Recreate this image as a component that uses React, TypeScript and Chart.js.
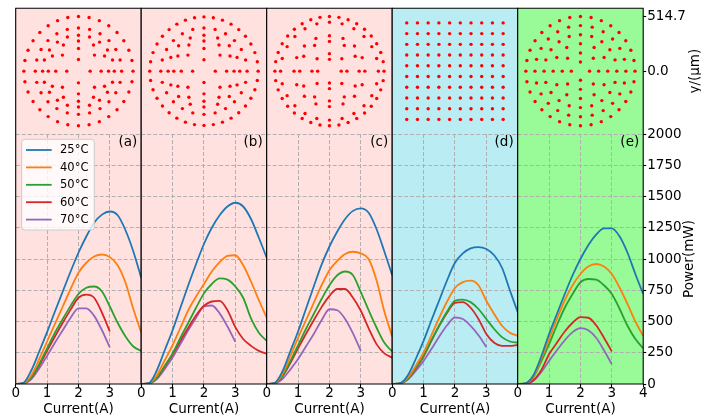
import React, { useEffect, useRef } from 'react';
import { Chart, registerables } from 'chart.js';

Chart.register(...registerables);

// ---------------- data ----------------
const CURRENT = [0, 0.25, 0.5, 0.75, 1, 1.25, 1.5, 1.75, 2, 2.25, 2.5, 2.75, 3, 3.25, 3.5, 3.75, 4];
const CURRENT_TICKS = [0, 1, 2, 3, 4];
const POWER_MIN = 0;
const POWER_MAX = 2000;
const POWER_STEP = 250;
const Y_UM_TICKS = [0, 514.7];
const Y_UM_LIMIT = 591.9;
const TEMPS = ['25°C', '40°C', '50°C', '60°C', '70°C'];
const PANEL_LABELS = ['(a)', '(b)', '(c)', '(d)', '(e)'];

const POWER_A = [
  [0, 10, 110, 260, 415, 580, 740, 900, 1050, 1180, 1290, 1355, 1380, 1350, 1230, 1060, 850],
  [0, 5, 70, 200, 340, 480, 620, 760, 890, 970, 1020, 1036, 1015, 950, 810, 600, 412],
  [0, 4, 55, 160, 285, 410, 520, 625, 720, 770, 780, 740, 620, 490, 380, 300, 265],
  [0, 4, 50, 150, 265, 380, 490, 595, 690, 715, 690, 570, 420],
  [0, 3, 40, 125, 225, 330, 430, 530, 605, 605, 545, 430, 292],
];
const POWER_B = [
  [0, 8, 110, 270, 430, 610, 790, 960, 1120, 1250, 1350, 1420, 1450, 1420, 1320, 1170, 1010],
  [0, 5, 70, 190, 310, 450, 590, 700, 800, 900, 975, 1025, 1030, 950, 820, 670, 532],
  [0, 4, 50, 145, 245, 370, 490, 610, 725, 800, 845, 835, 780, 690, 525, 410, 345],
  [0, 4, 50, 140, 235, 345, 450, 550, 626, 660, 665, 590, 455, 360, 305, 265, 243],
  [0, 3, 40, 120, 211, 320, 430, 530, 620, 628, 565, 460, 337],
];
const POWER_C = [
  [0, 8, 100, 260, 420, 600, 780, 955, 1100, 1220, 1320, 1385, 1405, 1370, 1240, 1060, 870],
  [0, 6, 80, 220, 370, 510, 650, 790, 910, 985, 1040, 1058, 1045, 1000, 830, 580, 380],
  [0, 5, 65, 180, 310, 440, 560, 680, 790, 870, 900, 870, 735, 590, 452, 330, 260],
  [0, 5, 60, 165, 285, 400, 510, 615, 705, 760, 760, 690, 586, 445, 319, 245, 211],
  [0, 3, 40, 115, 200, 300, 400, 510, 598, 590, 520, 405, 265],
];
const POWER_D = [
  [0, 6, 70, 200, 345, 510, 670, 830, 970, 1045, 1085, 1095, 1080, 1030, 930, 750, 575],
  [0, 5, 50, 145, 252, 390, 530, 660, 768, 815, 827, 790, 666, 560, 466, 410, 385],
  [0, 4, 45, 130, 225, 350, 470, 580, 666, 675, 655, 600, 520, 440, 375, 340, 332],
  [0, 4, 42, 125, 220, 345, 465, 570, 650, 655, 610, 520, 400, 330, 305, 305, 313],
  [0, 3, 35, 105, 185, 280, 380, 470, 532, 520, 465, 390, 297],
];
const POWER_E = [
  [0, 6, 70, 220, 400, 560, 720, 870, 1000, 1110, 1195, 1245, 1245, 1180, 1050, 880, 720],
  [0, 5, 60, 200, 359, 520, 670, 790, 880, 940, 960, 940, 880, 770, 640, 500, 385],
  [0, 5, 55, 180, 319, 470, 610, 720, 814, 840, 835, 790, 720, 600, 466, 360, 286],
  [0, 3, 30, 110, 238, 330, 420, 490, 535, 530, 470, 370, 260],
  [0, 2, 25, 95, 185, 270, 350, 415, 447, 430, 370, 270, 158],
];

// emitter layouts (µm): ring radii and number of emitters per ring
const RING_RADII_A = [110, 214, 284, 338, 407, 514.7];
const RING_COUNTS_A = [4, 8, 12, 20, 24, 32];
const RING_RADII_B = [107, 214, 284, 338, 407, 511];
const RING_COUNTS_B = [4, 8, 12, 16, 24, 36];
const RING_RADII_C = [111, 165, 280, 334, 461, 514.7];
const RING_COUNTS_C = [4, 8, 12, 16, 24, 36];
const GRID_D = [-454.5, -353.5, -252.5, -151.5, -50.5, 50.5, 151.5, 252.5, 353.5, 454.5];
const RING_RADII_E = [85.8, 171.6, 257.4, 343.1, 428.9, 514.7];
const RING_COUNTS_E = [4, 8, 12, 20, 24, 32];

// ---------------- style / layout ----------------
const CANVAS_W = 701;
const CANVAS_H = 420;
const FONT = "'DejaVu Sans', sans-serif";
const COLORS = ['#1f77b4', '#ff7f0e', '#2ca02c', '#d62728', '#9467bd'];
const PANEL_BG = ['#ffe2e0', '#ffe2e0', '#ffe2e0', '#b9edf3', '#98fb98'];
const GRID_COLOR = '#b0b0b0';
const PLOT_LEFT = 15.7;
const PANEL_W = 125.5;
const TOP_Y = 8.3;
const MID_Y = 134;
const BOTTOM_Y = 384;

function ringDots(radii: number[], counts: number[]) {
  const pts: { x: number; y: number }[] = [];
  radii.forEach((r, i) => {
    const n = counts[i];
    for (let j = 0; j < n; j++) {
      const a = (2 * Math.PI * j) / n;
      pts.push({ x: r * Math.cos(a), y: r * Math.sin(a) });
    }
  });
  return pts;
}
function gridDots(pos: number[]) {
  const pts: { x: number; y: number }[] = [];
  pos.forEach((y) => pos.forEach((x) => pts.push({ x, y })));
  return pts;
}

const DOTS = [
  ringDots(RING_RADII_A, RING_COUNTS_A),
  ringDots(RING_RADII_B, RING_COUNTS_B),
  ringDots(RING_RADII_C, RING_COUNTS_C),
  gridDots(GRID_D),
  ringDots(RING_RADII_E, RING_COUNTS_E),
];
const POWERS = [POWER_A, POWER_B, POWER_C, POWER_D, POWER_E];

const decorPlugin = {
  id: 'decor',
  beforeDraw(chart: any, _args: any, opts: any) {
    const { ctx, chartArea: a } = chart;
    ctx.save();
    ctx.fillStyle = opts.bg;
    ctx.fillRect(a.left, a.top, a.right - a.left, a.bottom - a.top);
    ctx.restore();
  },
  afterDraw(chart: any, _args: any, opts: any) {
    const { ctx, chartArea: a } = chart;
    ctx.save();
    ctx.strokeStyle = '#000';
    ctx.lineWidth = 1.1;
    ctx.beginPath();
    const sp: string[] = opts.spines || [];
    if (sp.includes('top')) { ctx.moveTo(a.left - 0.5, a.top); ctx.lineTo(a.right + 0.5, a.top); }
    if (sp.includes('bottom')) { ctx.moveTo(a.left - 0.5, a.bottom); ctx.lineTo(a.right + 0.5, a.bottom); }
    if (sp.includes('left')) { ctx.moveTo(a.left, a.top); ctx.lineTo(a.left, a.bottom); }
    if (sp.includes('right')) { ctx.moveTo(a.right, a.top); ctx.lineTo(a.right, a.bottom); }
    ctx.stroke();

    if (opts.label) {
      ctx.fillStyle = '#000';
      ctx.font = `13.5px ${FONT}`;
      ctx.textAlign = 'right';
      ctx.textBaseline = 'middle';
      ctx.fillText(opts.label, a.right - 4, a.top + 8.7);
    }

    if (opts.sideTitle) {
      ctx.fillStyle = '#000';
      ctx.font = `13.5px ${FONT}`;
      ctx.textAlign = 'center';
      ctx.textBaseline = 'middle';
      ctx.translate(a.right + opts.sideOffset, (a.top + a.bottom) / 2);
      ctx.rotate(-Math.PI / 2);
      ctx.fillText(opts.sideTitle, 0, 0);
      ctx.setTransform(1, 0, 0, 1, 0, 0);
    }

    if (opts.legend) {
      const x0 = a.left + 6;
      const y0 = a.top + 5.3;
      const w = 72.6;
      const h = 90.7;
      const r = 3;
      ctx.beginPath();
      ctx.moveTo(x0 + r, y0);
      ctx.lineTo(x0 + w - r, y0);
      ctx.arcTo(x0 + w, y0, x0 + w, y0 + r, r);
      ctx.lineTo(x0 + w, y0 + h - r);
      ctx.arcTo(x0 + w, y0 + h, x0 + w - r, y0 + h, r);
      ctx.lineTo(x0 + r, y0 + h);
      ctx.arcTo(x0, y0 + h, x0, y0 + h - r, r);
      ctx.lineTo(x0, y0 + r);
      ctx.arcTo(x0, y0, x0 + r, y0, r);
      ctx.closePath();
      ctx.fillStyle = 'rgba(255,255,255,0.8)';
      ctx.fill();
      ctx.strokeStyle = '#cccccc';
      ctx.lineWidth = 1;
      ctx.stroke();
      ctx.font = `11.5px ${FONT}`;
      ctx.textAlign = 'left';
      ctx.textBaseline = 'middle';
      chart.data.datasets.forEach((ds: any, i: number) => {
        const yy = y0 + 10.7 + i * 17.4;
        ctx.strokeStyle = ds.borderColor;
        ctx.lineWidth = 1.8;
        ctx.beginPath();
        ctx.moveTo(x0 + 4.3, yy);
        ctx.lineTo(x0 + 30, yy);
        ctx.stroke();
        ctx.fillStyle = '#000';
        ctx.fillText(ds.label, x0 + 38.3, yy + 0.5);
      });
    }
    ctx.restore();
  },
};

function topConfig(k: number): any {
  const left = PLOT_LEFT + k * PANEL_W;
  const right = left + PANEL_W;
  const last = k === 4;
  const rightSpace = CANVAS_W - right;
  return {
    type: 'scatter',
    data: {
      datasets: [
        { data: DOTS[k], backgroundColor: '#ff0000', borderWidth: 0, pointRadius: 1.7, pointHoverRadius: 1.7 },
      ],
    },
    options: {
      responsive: false,
      animation: false,
      events: [],
      layout: {
        autoPadding: false,
        padding: { left, right: last ? 0 : rightSpace, top: TOP_Y, bottom: CANVAS_H - MID_Y },
      },
      plugins: {
        legend: { display: false },
        tooltip: { enabled: false },
        decor: {
          bg: PANEL_BG[k],
          spines: ['top', 'left', 'right'],
          sideTitle: last ? 'y/(μm)' : '',
          sideOffset: 52,
        },
      },
      scales: {
        x: { type: 'linear', min: -Y_UM_LIMIT, max: Y_UM_LIMIT, display: false },
        y: {
          type: 'linear',
          min: -Y_UM_LIMIT,
          max: Y_UM_LIMIT,
          display: last,
          position: 'right',
          afterFit: (s: any) => { s.width = last ? rightSpace : 0; },
          afterBuildTicks: (s: any) => { s.ticks = Y_UM_TICKS.map((v) => ({ value: v })); },
          ticks: {
            callback: (v: any) => Number(v).toFixed(1),
            color: '#000',
            padding: 1,
            font: { family: FONT, size: 13.5, lineHeight: 1 },
          },
          grid: { drawOnChartArea: false, drawTicks: true, tickLength: 3, tickColor: '#000', tickWidth: 1.1 },
          border: { display: false },
        },
      },
    },
    plugins: [decorPlugin],
  };
}

function bottomConfig(k: number): any {
  const left = PLOT_LEFT + k * PANEL_W;
  const right = left + PANEL_W;
  const last = k === 4;
  const rightSpace = CANVAS_W - right;
  const hideEdge = (c: any) =>
    c.tick && (c.tick.value === 0 || c.tick.value === 4) ? 'rgba(0,0,0,0)' : GRID_COLOR;
  return {
    type: 'line',
    data: {
      datasets: POWERS[k].map((vals, j) => ({
        label: TEMPS[j],
        data: vals.map((v, i) => ({ x: CURRENT[i], y: v })),
        borderColor: COLORS[j],
        backgroundColor: COLORS[j],
        borderWidth: 1.8,
        pointRadius: 0,
        fill: false,
        cubicInterpolationMode: 'monotone',
      })),
    },
    options: {
      responsive: false,
      animation: false,
      events: [],
      layout: {
        autoPadding: false,
        padding: { left, right: last ? 0 : rightSpace, top: MID_Y, bottom: 0 },
      },
      plugins: {
        legend: { display: false },
        tooltip: { enabled: false },
        decor: {
          bg: PANEL_BG[k],
          spines: ['left', 'right', 'bottom'],
          label: PANEL_LABELS[k],
          legend: k === 0,
          sideTitle: last ? 'Power(mW)' : '',
          sideOffset: 46.5,
        },
      },
      scales: {
        x: {
          type: 'linear',
          min: 0,
          max: 4,
          afterFit: (s: any) => { s.height = CANVAS_H - BOTTOM_Y; },
          afterBuildTicks: (s: any) => { s.ticks = CURRENT_TICKS.map((v) => ({ value: v })); },
          ticks: {
            callback: (v: any) => (!last && v === 4 ? '' : String(v)),
            color: '#000',
            padding: 0,
            maxRotation: 0,
            autoSkip: false,
            font: { family: FONT, size: 13.5, lineHeight: 1 },
          },
          grid: { color: hideEdge, lineWidth: 1, drawTicks: true, tickLength: 3, tickColor: '#000', tickWidth: 1.1 },
          border: { display: false, dash: [4, 2] },
          title: {
            display: true,
            text: 'Current(A)',
            color: '#000',
            font: { family: FONT, size: 13.5 },
            padding: { top: 0, bottom: 2.6 },
          },
        },
        y: {
          type: 'linear',
          min: POWER_MIN,
          max: POWER_MAX,
          position: 'right',
          afterFit: (s: any) => { s.width = last ? rightSpace : 0; },
          ticks: {
            stepSize: POWER_STEP,
            display: last,
            callback: (v: any) => String(v),
            color: '#000',
            padding: 1,
            font: { family: FONT, size: 13.5, lineHeight: 1 },
          },
          grid: {
            color: (c: any) => (c.tick && c.tick.value === 0 ? 'rgba(0,0,0,0)' : GRID_COLOR),
            lineWidth: 1,
            drawTicks: last,
            tickLength: 3,
            tickColor: '#000',
            tickWidth: 1.1,
          },
          border: { display: false, dash: [4, 2] },
        },
      },
    },
    plugins: [decorPlugin],
  };
}

export default function App() {
  const topRefs = useRef<(HTMLCanvasElement | null)[]>([]);
  const botRefs = useRef<(HTMLCanvasElement | null)[]>([]);

  useEffect(() => {
    const charts: Chart[] = [];
    for (let k = 0; k < 5; k++) {
      const t = topRefs.current[k];
      const b = botRefs.current[k];
      if (t) charts.push(new Chart(t, topConfig(k)));
      if (b) charts.push(new Chart(b, bottomConfig(k)));
    }
    return () => charts.forEach((c) => c.destroy());
  }, []);

  const idx = [0, 1, 2, 3, 4];
  const cs: React.CSSProperties = { position: 'absolute', left: 0, top: 0 };
  return (
    <div style={{ position: 'absolute', left: 0, top: 0, width: CANVAS_W, height: CANVAS_H, background: '#fff', overflow: 'hidden' }}>
      {idx.map((k) => (
        <canvas key={'t' + k} ref={(el) => { topRefs.current[k] = el; }} width={CANVAS_W} height={CANVAS_H} style={cs} />
      ))}
      {idx.map((k) => (
        <canvas key={'b' + k} ref={(el) => { botRefs.current[k] = el; }} width={CANVAS_W} height={CANVAS_H} style={cs} />
      ))}
    </div>
  );
}
